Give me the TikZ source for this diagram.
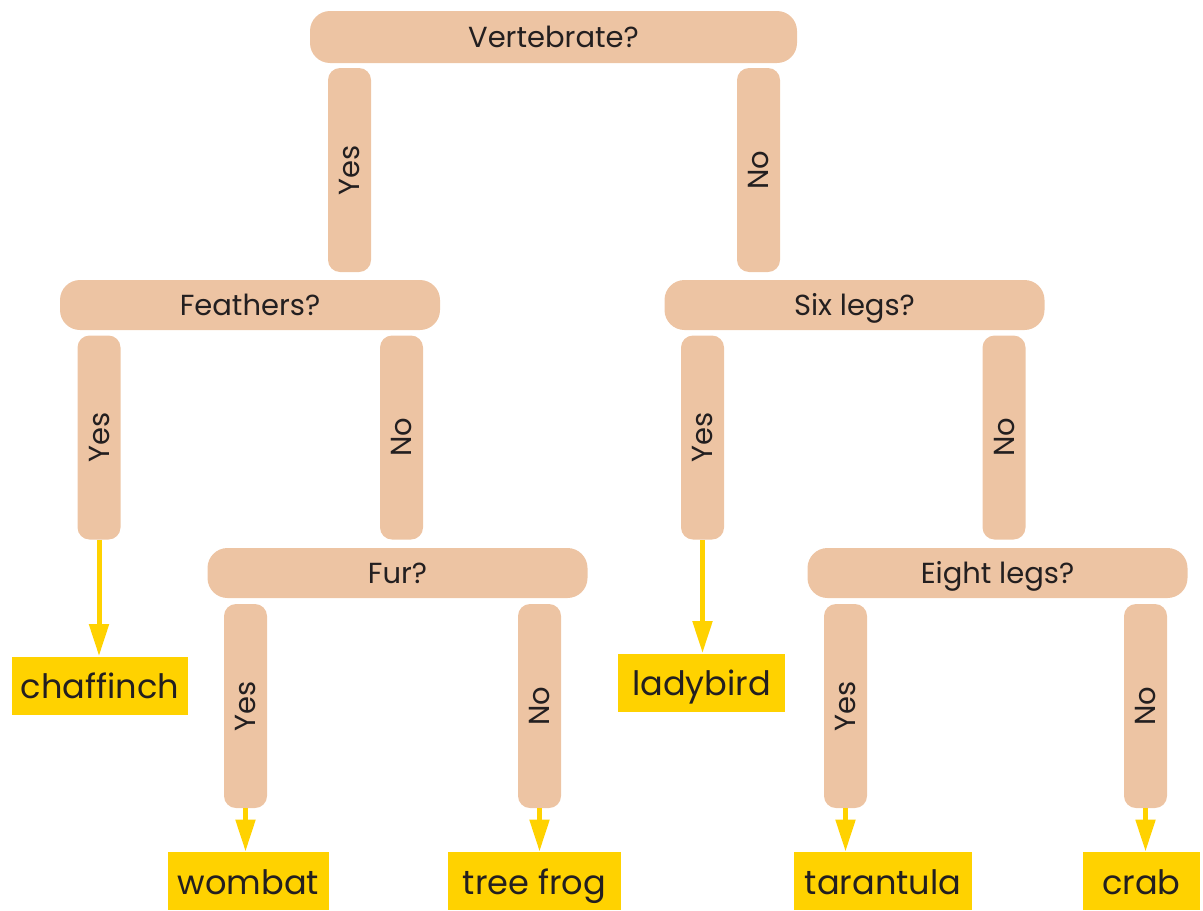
\documentclass[tikz,border=0pt]{standalone}
\usepackage{fontspec}
\setmainfont{Poppins}
\usetikzlibrary{arrows.meta}
\definecolor{wood}{RGB}{237,196,163}
\definecolor{keyyellow}{RGB}{255,210,0}
\definecolor{inkgray}{RGB}{35,31,32}

\begin{document}
\begin{tikzpicture}[x=0.5pt,y=-0.5pt,
  hstick/.style={fill=wood,rounded corners=10pt,minimum width=190pt,minimum height=25pt,inner sep=0pt,text height=12.4pt,text depth=2.1pt,text=inkgray,font=\fontsize{14.5}{16}\selectfont},
  vstick/.style={fill=wood,rounded corners=6pt,minimum width=102pt,minimum height=21.5pt,inner sep=0pt,rotate=90,text height=12.4pt,text depth=2.1pt,text=inkgray,font=\fontsize{14.5}{16}\selectfont},
  animal/.style={fill=keyyellow,minimum height=29pt,inner sep=0pt,text height=15pt,text depth=1.6pt,text=inkgray,font=\fontsize{16.8}{19}\selectfont},
  pointer/.style={draw=keyyellow,line width=2.5pt,-{Triangle[length=16pt,width=9.5pt]}}]
  \useasboundingbox (0,0) rectangle (1203,910);

  % questions
  \node[hstick,minimum width=243.5pt,minimum height=26pt] (vert) at (553.5,37) {Vertebrate?};
  \node[hstick] (feath) at (250,305) {Feathers?};
  \node[hstick] (six) at (854.5,305) {Six legs?};
  \node[hstick] (fur) at (397.5,573) {Fur?};
  \node[hstick] (eight) at (997.5,573) {Eight legs?};

  % answers
  \node[vstick] (vertyes) at (349.5,170) {Yes};
  \node[vstick] (vertno) at (758.5,170) {No};
  \node[vstick] (feathyes) at (99,437.5) {Yes};
  \node[vstick] (feathno) at (401.5,437.5) {No};
  \node[vstick] (sixyes) at (702.5,437.5) {Yes};
  \node[vstick] (sixno) at (1004,437.5) {No};
  \node[vstick] (furyes) at (245.5,706) {Yes};
  \node[vstick] (furno) at (539.5,706) {No};
  \node[vstick] (eightyes) at (845.5,706) {Yes};
  \node[vstick] (eightno) at (1145.5,706) {No};

  % animals
  \node[animal,minimum width=88pt] (chaff) at (100,685.5) {chaffinch};
  \node[animal,minimum width=83.5pt] (lady) at (701.5,682.5) {ladybird};
  \node[animal,minimum width=80.5pt] (wombat) at (248.5,881) {wombat};
  \node[animal,minimum width=86.5pt] (frog) at (534.5,881) {tree frog};
  \node[animal,minimum width=89pt] (taran) at (883,881) {tarantula};
  \node[animal,minimum width=58.5pt] (crab) at (1141.5,881) {crab};

  \draw[pointer] (feathyes.west) -- (feathyes.west |- chaff.north);
  \draw[pointer] (sixyes.west) -- (sixyes.west |- lady.north);
  \draw[pointer] (furyes.west) -- (furyes.west |- wombat.north);
  \draw[pointer] (furno.west) -- (furno.west |- frog.north);
  \draw[pointer] (eightyes.west) -- (eightyes.west |- taran.north);
  \draw[pointer] (eightno.west) -- (eightno.west |- crab.north);
\end{tikzpicture}
\end{document}
